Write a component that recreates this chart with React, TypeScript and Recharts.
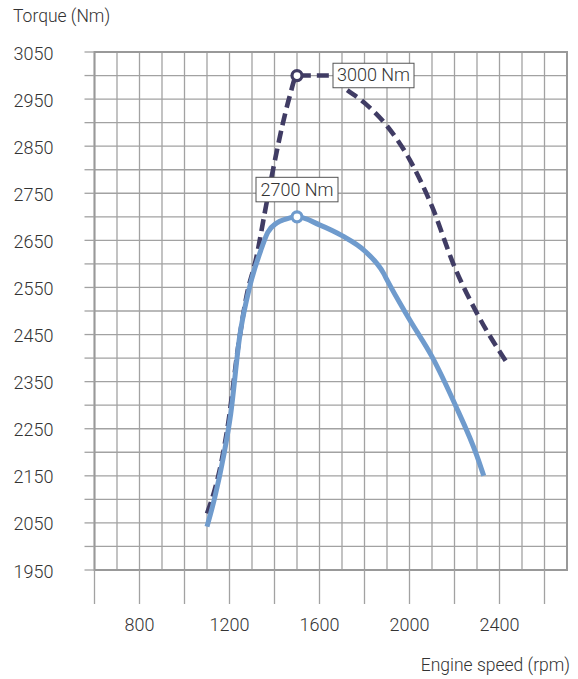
import { LineChart, Line, XAxis, YAxis, CartesianGrid, ReferenceArea } from 'recharts'

const TEXT = '#333333'
const GRID = '#a2a2a2'
const DARK = '#403c64'
const LIGHT = '#6f9bcd'
const FONT = 'Roboto, "Liberation Sans", Arial, sans-serif'

// grid lines every 100 rpm / 50 Nm, labels only on some of them
const xGrid = [600, 700, 800, 900, 1000, 1100, 1200, 1300, 1400, 1500, 1600, 1700, 1800, 1900, 2000, 2100, 2200, 2300, 2400, 2500, 2600, 2700]
const xTickLines = [600, 800, 1000, 1200, 1400, 1600, 1800, 2000, 2200, 2400, 2600]
const xLabels = [800, 1200, 1600, 2000, 2400]
const yGrid = [1950, 2000, 2050, 2100, 2150, 2200, 2250, 2300, 2350, 2400, 2450, 2500, 2550, 2600, 2650, 2700, 2750, 2800, 2850, 2900, 2950, 3000, 3050]
const yLabels = [1950, 2050, 2150, 2250, 2350, 2450, 2550, 2650, 2750, 2850, 2950, 3050]

// solid curve (2700 Nm)
const solidRpm = [1100, 1135, 1175, 1205, 1245, 1290, 1340, 1370, 1410, 1450, 1500, 1600, 1700, 1800, 1885, 1900, 2000, 2100, 2200, 2300, 2330]
const solidTorque = [2042, 2105, 2195, 2280, 2445, 2552, 2630, 2667, 2687, 2695, 2700, 2683, 2660, 2628, 2580, 2566, 2482, 2403, 2304, 2192, 2150]

// dashed curve (3000 Nm)
const dashRpm = [1100, 1135, 1165, 1195, 1237, 1275, 1320, 1356, 1393, 1437, 1467, 1500, 1650, 1700, 1800, 1900, 2000, 2100, 2200, 2300, 2430]
const dashTorque = [2070, 2122, 2182, 2264, 2419, 2530, 2615, 2707, 2799, 2898, 2955, 3000, 3000, 2978, 2942, 2893, 2822, 2722, 2594, 2495, 2392]

const peakRpm = 1500
const solidPeakLabel = '2700 Nm'
const dashPeakLabel = '3000 Nm'

const solidData = solidRpm.map((rpm, i) => ({ rpm, torque: solidTorque[i] }))
const dashData = dashRpm.map((rpm, i) => ({ rpm, torque: dashTorque[i] }))

function XTick(props: any) {
  const { x, y, payload } = props
  const v = payload.value
  return (
    <g>
      {xTickLines.includes(v) && <line x1={x} x2={x} y1={y} y2={y + 34} stroke={GRID} strokeWidth={1.3} />}
      {xLabels.includes(v) && (
        <text x={x} y={y + 60.5} textAnchor="middle" fontSize={18} fontWeight={300} fill={TEXT}>{v}</text>
      )}
    </g>
  )
}

function YTick(props: any) {
  const { x, y, payload } = props
  const v = payload.value
  return (
    <g>
      <line x1={x - 10} x2={x} y1={y} y2={y} stroke={GRID} strokeWidth={1.3} />
      {yLabels.includes(v) && (
        <text x={x - 41} y={y + 7.5} textAnchor="end" fontSize={18} fontWeight={300} fill={TEXT}>{v}</text>
      )}
    </g>
  )
}

function solidDot(p: any) {
  const { cx, cy, payload, index } = p
  if (payload.rpm !== peakRpm) return <g key={'s' + index} />
  return (
    <g key={'s' + index}>
      <circle cx={cx} cy={cy} r={5} fill="#fff" stroke={LIGHT} strokeWidth={3.2} />
      <rect x={cx - 41} y={cy - 39.5} width={82} height={24.5} fill="#fff" stroke="#555" strokeWidth={1} />
      <text x={cx} y={cy - 21.3} textAnchor="middle" fontSize={18} fontWeight={300} fill={TEXT}>{solidPeakLabel}</text>
    </g>
  )
}

function dashDot(p: any) {
  const { cx, cy, payload, index } = p
  if (payload.rpm !== peakRpm) return <g key={'d' + index} />
  return (
    <g key={'d' + index}>
      <circle cx={cx} cy={cy} r={5} fill="#fff" stroke={DARK} strokeWidth={3.2} />
      <rect x={cx + 36} y={cy - 12.3} width={81} height={24.5} fill="#fff" stroke="#555" strokeWidth={1} />
      <text x={cx + 76.5} y={cy + 5.8} textAnchor="middle" fontSize={18} fontWeight={300} fill={TEXT}>{dashPeakLabel}</text>
    </g>
  )
}

export default function App() {
  return (
    <div style={{ position: 'absolute', left: 0, top: 0, width: 578, height: 679, background: '#fff', fontFamily: FONT }}>
      <div style={{ position: 'absolute', left: 13, top: 7.6, fontSize: 17.5, fontWeight: 300, lineHeight: '17px', color: TEXT, whiteSpace: 'nowrap' }}>Torque (Nm)</div>
      <div style={{ position: 'absolute', right: 8, top: 656.6, fontSize: 17.5, fontWeight: 300, lineHeight: '17px', color: TEXT, whiteSpace: 'nowrap' }}>Engine speed (rpm)</div>
      <LineChart width={578} height={679} margin={{ top: 52, right: 11, bottom: 0, left: 0 }} style={{ fontFamily: FONT }}>
        <CartesianGrid stroke={GRID} strokeWidth={1.3} />
        <XAxis
          dataKey="rpm"
          type="number"
          domain={[600, 2700]}
          ticks={xGrid}
          interval={0}
          height={109}
          axisLine={false}
          tickLine={false}
          tickSize={0}
          tickMargin={0}
          tick={<XTick />}
          allowDuplicatedCategory={false}
        />
        <YAxis
          type="number"
          domain={[1950, 3050]}
          ticks={yGrid}
          interval={0}
          width={94.5}
          axisLine={false}
          tickLine={false}
          tickSize={0}
          tickMargin={0}
          tick={<YTick />}
        />
        <ReferenceArea x1={600} x2={2700} y1={1950} y2={3050} fill="none" fillOpacity={0} stroke="#999" strokeWidth={2} />
        <Line
          data={dashData}
          dataKey="torque"
          type="monotone"
          stroke={DARK}
          strokeWidth={4.6}
          strokeDasharray="12 6"
          dot={dashDot}
          activeDot={false}
          isAnimationActive={false}
        />
        <Line
          data={solidData}
          dataKey="torque"
          type="monotone"
          stroke={LIGHT}
          strokeWidth={5}
          dot={solidDot}
          activeDot={false}
          isAnimationActive={false}
        />
      </LineChart>
    </div>
  )
}
